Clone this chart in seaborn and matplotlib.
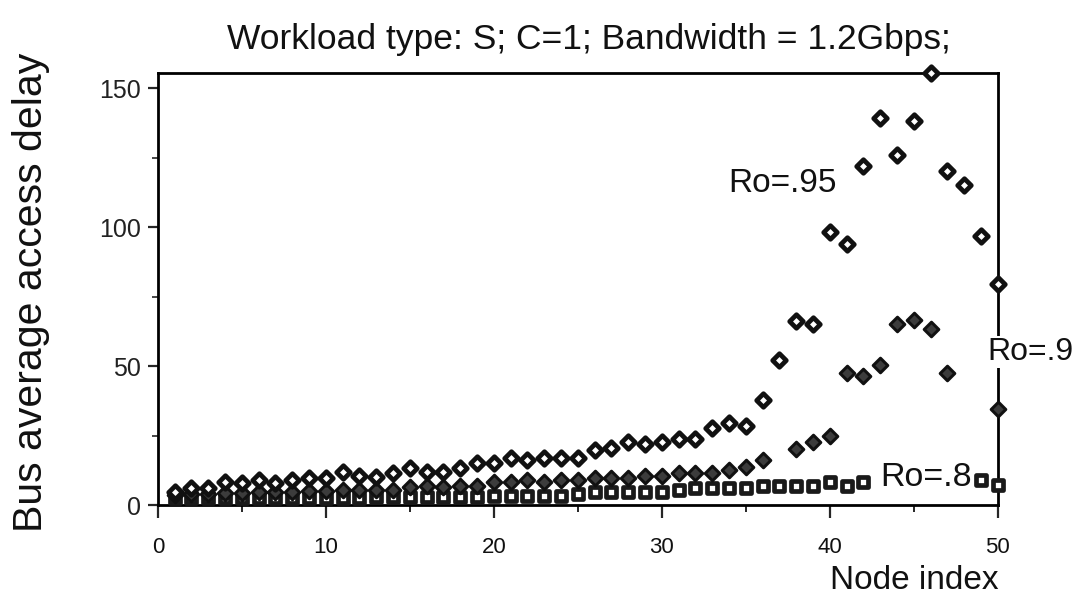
import numpy as np
import pandas as pd
import matplotlib
matplotlib.use("Agg")
import matplotlib.pyplot as plt
import seaborn as sns

nan = np.nan
nodes = list(range(1, 51))

ro95 = [4.7, 6.3, 6.0, 8.4, 8.0, 9.0, 8.1, 9.0, 9.6, 9.6,
        11.8, 10.6, 10.2, 11.7, 13.5, 12.0, 12.0, 13.5, 15.3, 15.3,
        17.1, 16.2, 17.1, 17.1, 17.0, 19.8, 20.7, 22.8, 21.9, 22.8,
        23.7, 23.7, 27.6, 29.4, 28.5, 37.8, 52.2, 66.3, 65.3, 98.3,
        94.1, 121.9, 139.1, 125.9, 138.1, 155.3, 120.1, 115.3, 96.8, 79.7]

ro90 = [3.5, 4.0, 4.0, 4.2, 4.2, 4.6, 4.6, 4.6, 5.0, 5.0,
        5.4, 5.4, 5.4, 5.6, 6.6, 6.8, 6.6, 6.8, 6.8, 8.4,
        8.4, 9.0, 8.4, 9.0, 9.0, 9.6, 9.6, 9.6, 10.6, 10.6,
        11.6, 11.6, 11.6, 12.6, 13.8, 16.2, nan, 20.0, 22.8, 24.8,
        47.4, 46.4, 50.4, 65.3, 66.5, 63.5, 47.4, nan, nan, 34.4]

ro80 = [2.4, 2.4, 2.4, 2.4, 2.4, 2.4, 2.4, 2.4, 2.4, 2.4,
        2.4, 2.4, 3.0, 3.0, 3.0, 3.0, 3.0, 3.0, 3.0, 3.4,
        3.4, 3.4, 3.4, 3.4, 4.0, 4.6, 4.6, 4.6, 4.6, 4.6,
        5.6, 6.0, 6.0, 6.0, 6.0, 6.8, 6.7, 6.7, 6.8, 8.2,
        6.8, 8.2, nan, nan, nan, nan, nan, nan, 9.0, 7.2]

title = "Workload type: S; C=1; Bandwidth = 1.2Gbps;"
xlabel = "Node index"
ylabel = "Bus average access delay"
xticks = [0, 10, 20, 30, 40, 50]
yticks = [0, 50, 100, 150]

sns.set_theme(style="ticks")
plt.rcParams['font.family'] = ['Liberation Sans', 'DejaVu Sans']

df = pd.DataFrame({"node": nodes, "r95": ro95, "r90": ro90, "r80": ro80})

fig = plt.figure(figsize=(10.81, 6.02), dpi=100)
ax = fig.add_axes([0.146, 0.161, 0.777, 0.718])

sns.scatterplot(data=df, x="node", y="r80", marker="s", s=58, color="white",
                edgecolor="#1a1a1a", linewidth=3.4, ax=ax, clip_on=False, zorder=3)
sns.scatterplot(data=df, x="node", y="r90", marker="D", s=55, color="#3c3c3c",
                edgecolor="#111111", linewidth=2.2, ax=ax, clip_on=False, zorder=4)
sns.scatterplot(data=df, x="node", y="r95", marker="D", s=48, color="white",
                edgecolor="#111111", linewidth=3.4, ax=ax, clip_on=False, zorder=5)

ax.set_xlim(0, 50)
ax.set_ylim(0, 155.5)
ax.set_xticks(xticks)
ax.set_xticks(range(5, 50, 10), minor=True)
ax.set_yticks(yticks)
ax.set_yticks([25, 75, 125], minor=True)
ax.set_xticklabels([str(t) for t in xticks], fontsize=16, color="#111111")
ax.set_yticklabels([str(t) for t in yticks], fontsize=18, color="#222222")
ax.tick_params(axis="x", which="major", direction="out", length=9, width=1.6, pad=14)
ax.tick_params(axis="x", which="minor", direction="out", length=5, width=1.4)
ax.tick_params(axis="y", which="major", direction="out", length=7, width=1.6, pad=5)
ax.tick_params(axis="y", which="minor", direction="out", length=4, width=1.2)
for sp in ax.spines.values():
    sp.set_visible(True)
    sp.set_linewidth(2.0)
    sp.set_color("black")

ax.set_xlabel("")
ax.set_ylabel("")
fig.text(0.545, 0.935, title, ha="center", va="center", fontsize=25.5, color="#111111")
fig.text(0.029, 0.515, ylabel, rotation=90, ha="center", va="center", fontsize=29.5, color="#111111")
fig.text(0.924, 0.035, xlabel, ha="right", va="center", fontsize=24, color="#111111")

ax.text(37.2, 115.8, "Ro=.95", ha="center", va="center", fontsize=24, color="#111111", zorder=6)
ax.text(49.4, 55, "Ro=.9", ha="left", va="center", fontsize=23, color="#111111", zorder=6,
        clip_on=False, bbox=dict(facecolor="white", edgecolor="none", pad=1))
ax.text(43.0, 10.0, "Ro=.8", ha="left", va="center", fontsize=24.5, color="#111111", zorder=6,
        bbox=dict(facecolor="white", edgecolor="none", pad=1))

fig.savefig("out.png", dpi=100)
